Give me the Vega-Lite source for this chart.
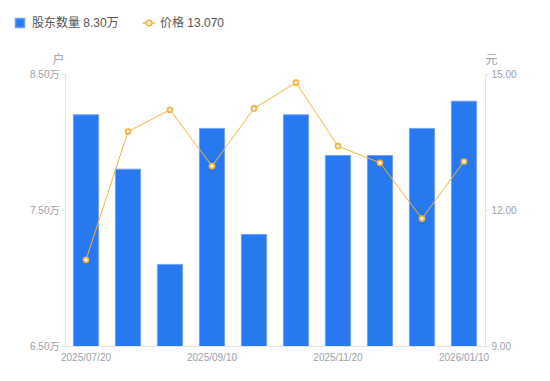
{
  "$schema": "https://vega.github.io/schema/vega-lite/v6.json",
  "width": 420,
  "height": 272,
  "autosize": {"type": "none"},
  "padding": {"left": 65, "top": 74, "right": 65, "bottom": 35},
  "background": "white",
  "config": {
    "view": {"stroke": null},
    "font": "Liberation Sans, Noto Sans CJK SC, sans-serif",
    "axis": {"labelColor": "#9d9fae", "labelFontSize": 10, "domainColor": "#e3e3e8", "tickColor": "#e3e3e8", "grid": false, "titleColor": "#9d9fae", "titleFontWeight": "normal", "titleFontSize": 12}
  },
  "data": {
    "values": [
      {"date": "2025/07/20", "holders": 82000, "price": 10.90, "s1": "股东数量", "s2": "价格"},
      {"date": "2025/07/31", "holders": 78000, "price": 13.73, "s1": "股东数量", "s2": "价格"},
      {"date": "2025/08/20", "holders": 71000, "price": 14.21, "s1": "股东数量", "s2": "价格"},
      {"date": "2025/09/10", "holders": 81000, "price": 12.97, "s1": "股东数量", "s2": "价格"},
      {"date": "2025/09/30", "holders": 73200, "price": 14.24, "s1": "股东数量", "s2": "价格"},
      {"date": "2025/10/31", "holders": 82000, "price": 14.81, "s1": "股东数量", "s2": "价格"},
      {"date": "2025/11/20", "holders": 79000, "price": 13.41, "s1": "股东数量", "s2": "价格"},
      {"date": "2025/12/10", "holders": 79000, "price": 13.04, "s1": "股东数量", "s2": "价格"},
      {"date": "2025/12/31", "holders": 81000, "price": 11.81, "s1": "股东数量", "s2": "价格"},
      {"date": "2026/01/10", "holders": 83000, "price": 13.07, "s1": "股东数量", "s2": "价格"}
    ]
  },
  "encoding": {
    "x": {
      "field": "date", "type": "nominal", "sort": null,
      "scale": {"paddingInner": 0.4, "paddingOuter": 0.2},
      "axis": {"title": null, "labelAngle": 0, "ticks": false, "labelPadding": 6, "labelFontSize": 10,
        "values": ["2025/07/20", "2025/09/10", "2025/11/20", "2026/01/10"]}
    }
  },
  "layer": [
    {
      "mark": {"type": "bar", "stroke": "#6ea2f7", "strokeWidth": 1, "clip": true},
      "encoding": {
        "y": {
          "field": "holders", "type": "quantitative",
          "scale": {"domain": [65000, 85000], "nice": false, "zero": false},
          "axis": {"orient": "left", "values": [65000, 75000, 85000], "labelExpr": "format(datum.value/10000, '.2f') + '万'",
            "title": "户", "titleAngle": 0, "titleAnchor": "end", "titleAlign": "center", "titleBaseline": "bottom", "titleX": -7, "titleY": -8, "tickSize": 4, "labelPadding": 2}
        },
        "color": {
          "field": "s1", "type": "nominal",
          "scale": {"domain": ["股东数量"], "range": ["#2878f0"]},
          "legend": {
            "title": null, "orient": "none", "direction": "horizontal", "legendX": -51, "legendY": -57,
            "labelFontSize": 12, "labelColor": "#555", "symbolSize": 81, "labelOffset": 6,
            "labelExpr": "'股东数量  8.30万'"
          }
        }
      }
    },
    {
      "encoding": {
        "y": {
          "field": "price", "type": "quantitative",
          "scale": {"domain": [9, 15], "nice": false, "zero": false},
          "axis": {"orient": "right", "values": [9, 12, 15], "format": ".2f",
            "title": "元", "titleAngle": 0, "titleAnchor": "end", "titleAlign": "center", "titleBaseline": "bottom", "titleX": 6, "titleY": -8, "tickSize": 4, "labelPadding": 2}
        }
      },
      "layer": [
        {
          "mark": {"type": "line", "strokeWidth": 1},
          "encoding": {
            "stroke": {
              "field": "s2", "type": "nominal",
              "scale": {"domain": ["价格"], "range": ["#f7b23b"]},
              "legend": {
                "title": null, "orient": "none", "direction": "horizontal", "legendX": 78, "legendY": -57,
                "labelFontSize": 12, "labelColor": "#555", "symbolSize": 81, "labelOffset": 5,
                "symbolType": "M-1.4,0L-0.6,0M0.6,0L1.4,0M-0.6,0A0.6,0.6,0,1,1,0.6,0A0.6,0.6,0,1,1,-0.6,0",
                "symbolFillColor": "white", "symbolStrokeWidth": 1.6,
                "labelExpr": "'价格  13.070'"
              }
            }
          }
        },
        {
          "mark": {"type": "point", "filled": true, "fill": "white", "stroke": "#f7b23b", "strokeWidth": 1.8, "size": 24, "opacity": 1},
          "encoding": {}
        }
      ]
    }
  ],
  "resolve": {"scale": {"y": "independent"}}
}
